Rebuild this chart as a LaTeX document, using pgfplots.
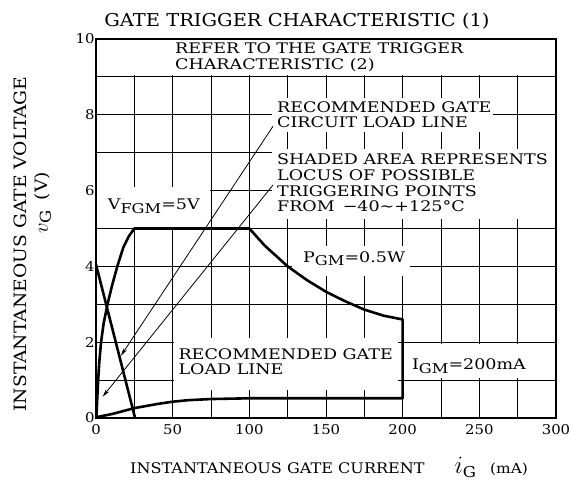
\documentclass[border=0pt]{standalone}
\usepackage{fontspec}
\setmainfont{DejaVu Serif}[FakeStretch=1.1]
\newfontfamily\plotfont{DejaVu Serif}[FakeStretch=1.2]
\usepackage{pgfplots}
\pgfplotsset{compat=1.18}
\usetikzlibrary{arrows.meta}
\newcommand\intext{\plotfont\fontsize{14.6}{15.6}\selectfont}
\newcommand\sub[1]{\raisebox{-3.5pt}{\fontsize{13.5}{14}\selectfont #1}}
\begin{document}
\begin{tikzpicture}
\begin{axis}[
  scale only axis, width=460pt, height=379pt,
  at={(0pt,0pt)}, anchor=south west,
  xmin=0, xmax=300, ymin=0, ymax=10,
  xtick={0,50,...,300}, minor xtick={25,75,...,275},
  ytick={0,2,...,10}, minor ytick={1,3,...,9},
  grid=both,
  major grid style={line width=0.9pt, black},
  minor grid style={line width=0.9pt, black},
  major tick length=0pt, minor tick length=0pt,
  axis line style={line width=1.6pt},
  /pgf/number format/assume math mode=true,
  ticklabel style={font=\fontsize{13.5}{14}\selectfont},
  xticklabel style={yshift=-3pt},
  yticklabel style={xshift=2pt},
  clip=false,
]
% white areas hiding the grid behind the texts
\fill[white] (axis cs:0,9.04) rectangle (axis cs:300,10);
\fill[white] (axis cs:115,7.55) rectangle (axis cs:259,8.45);
\fill[white] (axis cs:115,5.25) rectangle (axis cs:300,7.1);
\fill[white] (axis cs:0,5.05) rectangle (axis cs:74.5,6.1);
\fill[white] (axis cs:128,3.75) rectangle (axis cs:205,4.55);
\fill[white] (axis cs:51,0.75) rectangle (axis cs:197,2.12);
\fill[white] (axis cs:201,1.05) rectangle (axis cs:300,1.95);

% forward characteristic, P_GM and I_GM limits, minimum trigger boundary
\addplot[black, line width=2.6pt, line join=round] coordinates {
(0.3,0.05)(0.8,0.5)(1.4,1)(2.2,1.5)(3.3,2)(5,2.5)(7.5,3)(10.5,3.5)(13.9,4)
(17.8,4.5)(21.5,4.8)(25,5)(100,5)(110,4.55)(125,4)(137.5,3.64)(150,3.33)
(162.5,3.08)(175,2.86)(187.5,2.7)(200,2.6)(200,0.52)(100,0.52)(75,0.5)
(60,0.47)(50,0.43)(40,0.37)(25,0.26)(10,0.1)(0,0.02)};
% recommended gate load line
\addplot[black, line width=2.6pt] coordinates {(0,4.05)(25.5,0)};
% arrows
\addplot[black, line width=0.8pt, -{Stealth[length=8pt,width=4pt]}] coordinates {(115.5,7.7)(16.2,1.64)};
\addplot[black, line width=0.8pt, -{Stealth[length=8pt,width=4pt]}] coordinates {(115.5,6.15)(4.3,0.56)};

\draw[line width=1.6pt] (rel axis cs:0,0) rectangle (rel axis cs:1,1);
\draw[line width=0.9pt] (axis cs:0,9) -- (axis cs:300,9);

% texts
\node[anchor=west, align=left, font=\intext, inner sep=0pt] at (axis cs:51.5,9.52)
  {REFER TO THE GATE TRIGGER\\CHARACTERISTIC (2)};
\node[anchor=west, align=left, font=\intext, inner sep=0pt] at (axis cs:118,8.0)
  {RECOMMENDED GATE\\CIRCUIT LOAD LINE};
\node[anchor=west, align=left, font=\intext, inner sep=0pt] at (axis cs:118,6.2)
  {SHADED AREA REPRESENTS\\LOCUS OF POSSIBLE\\TRIGGERING POINTS\\FROM \,−40∼+125°C};
\node[anchor=west, font=\intext, inner sep=0pt] at (axis cs:7.6,5.58) {V\sub{FGM}=5V};
\node[anchor=west, font=\intext, inner sep=0pt] at (axis cs:135,4.2) {P\sub{GM}=0.5W};
\node[anchor=west, font=\intext, inner sep=0pt] at (axis cs:206,1.37) {I\sub{GM}=200mA};
\node[anchor=west, align=left, font=\intext, inner sep=0pt] at (axis cs:53.7,1.49)
  {RECOMMENDED GATE\\LOAD LINE};

% title and axis labels
\node[xshift=201pt, yshift=397pt, font=\fontsize{17.7}{18}\selectfont, inner sep=0pt] at (rel axis cs:0,0)
  {GATE TRIGGER CHARACTERISTIC (1)};
\node[anchor=west, xshift=34pt, yshift=-49pt, font=\fontsize{14.6}{15}\selectfont, inner sep=0pt] at (rel axis cs:0,0)
  {INSTANTANEOUS GATE CURRENT\hspace{30pt}{\fontsize{24}{24}\selectfont$i$}\raisebox{-4pt}{\fontsize{15}{15}\selectfont G}\hspace{14pt}{\fontsize{14}{14}\selectfont(mA)}};
\node[xshift=-76pt, yshift=174pt, rotate=90, font=\fontsize{17}{17}\selectfont, inner sep=0pt] at (rel axis cs:0,0)
  {INSTANTANEOUS GATE VOLTAGE};
\node[xshift=-53pt, yshift=215pt, rotate=90, font=\fontsize{17}{17}\selectfont, inner sep=0pt] at (rel axis cs:0,0)
  {{\fontsize{22}{22}\selectfont$v$}\raisebox{-3pt}{\fontsize{15}{15}\selectfont G}\hspace{10pt}(V)};

\path (rel axis cs:0,0) ++(-96pt,-68pt) coordinate (BL);
\path (rel axis cs:0,0) ++(475pt,418pt) coordinate (TR);
\end{axis}
\pgfresetboundingbox
\useasboundingbox (BL) rectangle (TR);
\end{tikzpicture}
\end{document}
